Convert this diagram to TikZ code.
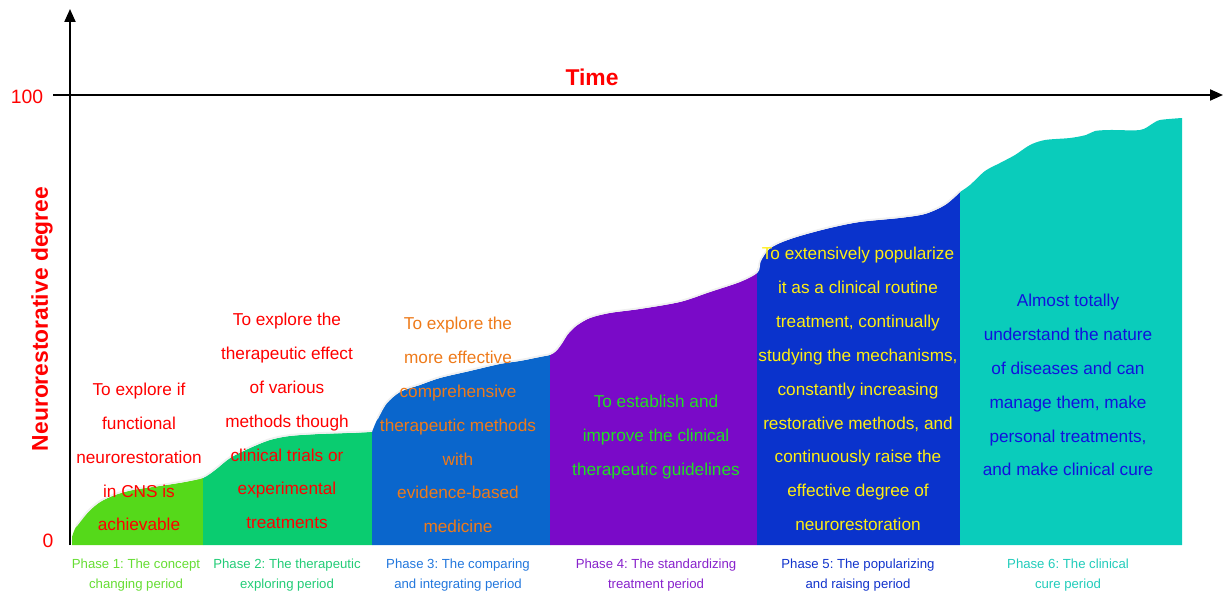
\documentclass[tikz,border=0pt]{standalone}
\usepackage{fontspec}
\setmainfont{Liberation Sans}
\usetikzlibrary{arrows.meta}
\frenchspacing

\definecolor{phaseA}{HTML}{55D91A}
\definecolor{phaseB}{HTML}{0ACC70}
\definecolor{phaseC}{HTML}{0A66CC}
\definecolor{phaseD}{HTML}{7A0AC8}
\definecolor{phaseE}{HTML}{0A33CC}
\definecolor{phaseF}{HTML}{0ACCBB}
\definecolor{labelA}{HTML}{66DD33}
\definecolor{labelB}{HTML}{22CC77}
\definecolor{labelC}{HTML}{2277DD}
\definecolor{labelD}{HTML}{8822CC}
\definecolor{labelE}{HTML}{1133CC}
\definecolor{labelF}{HTML}{22CCBB}
\definecolor{goalOrange}{HTML}{EE7A1A}
\definecolor{goalGreen}{HTML}{22DD22}
\definecolor{goalYellow}{HTML}{FFEE11}
\definecolor{goalBlue}{HTML}{1111DD}

\begin{document}
\begin{tikzpicture}[
    x=0.02cm, y=-0.02cm,
    axis/.style={line width=1.15pt, -{Triangle[length=0.26cm, width=0.22cm]}},
    edge_line/.style={white!88!gray, line width=1pt},
    goal_text/.style={align=center, font=\fontsize{9.8pt}{19.3pt}\selectfont},
    phase_label/.style={align=center, font=\fontsize{7.5pt}{11.3pt}\selectfont},
    tick_label/.style={red, font=\fontsize{11pt}{13pt}\selectfont},
    axis_title/.style={red, font=\fontsize{13pt}{15pt}\selectfont\bfseries}
]
    \useasboundingbox (0,0) rectangle (1224,595);
    % Fases (areas)
    \fill[phaseA] (72,545) -- plot[smooth] coordinates {(72,537) (76,527) (88,512) (100,502) (115,495) (133,490) (160,486) (185,482) (203,478)} -- (203,545) -- cycle;
    \fill[phaseB] (203,545) -- plot[smooth] coordinates {(203,478) (215,470) (230,458) (250,448) (270,440) (290,436) (320,434) (350,433) (372,432)} -- (372,545) -- cycle;
    \fill[phaseC] (372,545) -- plot[smooth] coordinates {(372,432) (377,420) (386,404) (400,392) (420,385) (440,378) (470,371) (500,364) (520,361) (540,357) (550,355)} -- (550,545) -- cycle;
    \fill[phaseD] (550,545) -- plot[smooth] coordinates {(550,355) (556,351) (562,343) (567,335) (576,326) (590,318) (610,313) (640,309) (680,302) (710,292) (740,282) (757,273)} -- (757,545) -- cycle;
    \fill[phaseE] (757,545) -- plot[smooth] coordinates {(757,273) (760,262) (768,250) (780,243) (800,236) (830,228) (860,222) (900,218) (925,214) (945,205) (960,192)} -- (960,545) -- cycle;
    \fill[phaseF] (960,545) -- plot[smooth] coordinates {(960,192) (970,185) (985,171) (1000,163) (1015,155) (1030,145) (1045,140) (1070,138) (1086,135) (1095,131) (1110,130) (1140,130) (1152,124) (1160,120) (1182,118)} -- (1182,545) -- cycle;
    % Bordas
    \draw[edge_line] plot[smooth] coordinates {(76,526) (88,511) (100,501) (115,494) (133,489) (160,485) (185,481) (203,477) (215,469) (230,457) (250,447) (270,439) (290,435) (320,433) (350,432) (372,431)};
    \draw[edge_line] plot[smooth] coordinates {(377,419) (386,403) (400,391) (420,384) (440,377) (470,370) (500,363) (520,360) (540,356) (550,354) (556,350) (562,342) (567,334) (576,325) (590,317) (610,312) (640,308) (680,301) (710,291) (740,281) (757,272) (760,261) (768,249) (780,242) (800,235) (830,227) (860,221) (900,217) (925,213) (945,204) (960,191)};

    % Eixos
    \coordinate (origin) at (70,545);
    \coordinate (y_top) at (70,9);
    \coordinate (x_start) at (53,95);
    \coordinate (x_end) at (1223,95);
    \draw[axis] (origin) -- (y_top);
    \draw[axis] (x_start) -- (x_end);
    \node[tick_label] (tick100) at (27,97) {100};
    \node[tick_label] (tick0) at (48,541) {0};
    \node[axis_title] (time) at (592,77) {Time};
    \node[axis_title, rotate=90] (degree) at (42,319) {Neurorestorative degree};

    % Objetivos de cada fase
    \node[goal_text, red] (goal1) at (139,457) {To explore if\\functional\\neurorestoration\\in CNS is\\achievable};
    \node[goal_text, red] (goal2) at (287,421) {To explore the\\therapeutic effect\\of various\\methods though\\clinical trials or\\experimental\\treatments};
    \node[goal_text, goalOrange] (goal3) at (458,425) {To explore the\\more effective\\comprehensive\\therapeutic methods\\with\\evidence-based\\medicine};
    \node[goal_text, goalGreen] (goal4) at (656,437) {To establish and\\improve the clinical\\therapeutic guidelines};
    \node[goal_text, goalYellow] (goal5) at (858,389) {To extensively popularize\\it as a clinical routine\\treatment, continually\\studying the mechanisms,\\constantly increasing\\restorative methods, and\\continuously raise the\\effective degree of\\neurorestoration};
    \node[goal_text, goalBlue] (goal6) at (1068,385) {Almost totally\\understand the nature\\of diseases and can\\manage them, make\\personal treatments,\\and make clinical cure};

    % Nomes das fases
    \node[phase_label, labelA] (phase1) at (136,575) {Phase 1: The concept\\changing period};
    \node[phase_label, labelB] (phase2) at (287,575) {Phase 2: The therapeutic\\exploring period};
    \node[phase_label, labelC] (phase3) at (458,575) {Phase 3: The comparing\\and integrating period};
    \node[phase_label, labelD] (phase4) at (656,575) {Phase 4: The standardizing\\treatment period};
    \node[phase_label, labelE] (phase5) at (858,575) {Phase 5: The popularizing\\and raising period};
    \node[phase_label, labelF] (phase6) at (1068,575) {Phase 6: The clinical\\cure period};
\end{tikzpicture}
\end{document}
